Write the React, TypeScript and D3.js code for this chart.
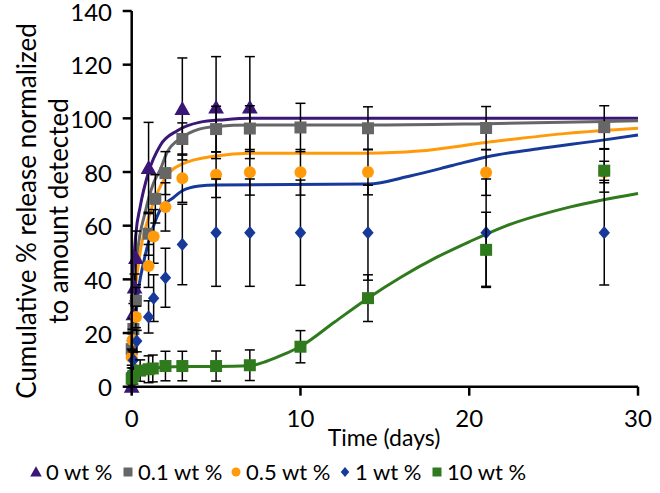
import React from "react";
import * as d3 from "d3";

// ---- Data ----
const seriesNames = ["0 wt %", "0.1 wt %", "0.5 wt %", "1 wt %", "10 wt %"];
const seriesColors = ["#3a1677", "#666666", "#ff9a0a", "#16399a", "#2f7a1c"];
const markerShapes = ["triangle", "square", "circle", "diamond", "square"];

// measured points
const t0 = [0, 0.1, 0.17, 0.25, 1, 3, 5, 7];
const v0 = [0, 27, 37, 48, 81.5, 103.5, 104, 104];
const e0 = [0, 4, 5, 10, 17, 19, 19, 19];

const t1 = [0, 0.1, 0.25, 1, 1.4, 2, 3, 5, 7, 10, 14, 21, 28];
const v1 = [14, 21.5, 32, 57, 70, 79.6, 92.3, 96, 96.2, 96.6, 96.3, 96.4, 96.7];
const e1 = [3, 4, 5, 8, 9, 8, 6, 8.5, 8.5, 9, 8, 8, 8];

const t2 = [0, 0.05, 0.25, 1, 1.3, 2, 3, 5, 7, 10, 14, 21, 28];
const v2 = [11, 17.4, 26, 45, 56, 67, 77.7, 79, 79.9, 79.9, 80, 79.8, 80];
const e2 = [3, 4, 4, 8, 10, 9, 9, 8.5, 8.5, 8.5, 8.5, 8.5, 4];

const t3 = [0, 0.1, 0.3, 1, 1.3, 2, 3, 5, 7, 10, 14, 21, 28];
const v3 = [5, 9.9, 17, 26, 33, 40.6, 53, 57.4, 57.4, 57.4, 57.4, 57.4, 57.4];
const e3 = [2, 3, 4, 6, 8.7, 11, 15, 20, 20, 19.6, 17.7, 20, 19.5];

const t4 = [0, 0.1, 0.5, 1, 1.25, 2, 3, 5, 7, 10, 14, 21, 28];
const v4 = [3, 4, 6, 6.5, 6.8, 7.7, 7.7, 7.7, 8, 14.9, 33, 51, 80.5];
const e4 = [2, 3, 4, 5, 5, 5.5, 5.5, 5.6, 5.7, 6, 8.7, 14, 8];

// fitted curves
const ct0 = [0, 0.05, 0.14, 0.25, 0.5, 1, 1.7, 2.7, 4, 5.5, 7, 30];
const cv0 = [0, 25, 47, 57, 67, 80, 90, 95.4, 98.5, 99.5, 100, 100];
const ct1 = [0, 0.1, 0.33, 0.8, 1.3, 1.7, 2.07, 3, 4, 5, 7, 14, 21, 28, 30];
const cv1 = [0, 28, 49, 65, 76, 81, 87, 93, 96, 97, 97.5, 97.5, 98, 98.8, 99.1];
const ct2 = [0, 0.15, 0.43, 1, 1.5, 2, 3, 5, 7, 14, 17, 21, 25.8, 30];
const cv2 = [0, 30, 47, 63, 72, 78, 83, 86, 87, 87, 87.8, 91, 94.4, 96.3];
const ct3 = [0, 0.3, 0.73, 1, 1.3, 1.7, 2.5, 3, 4, 5, 14, 16.5, 19, 21, 24, 27.7, 30];
const cv3 = [0, 30, 47, 54, 60, 66, 70.6, 73, 74.8, 75.2, 75.5, 78.5, 82.4, 85.6, 88.6, 91.7, 93.8];
const ct4 = [0, 0.5, 1, 2, 3, 5, 7, 8, 9, 10, 12, 14, 16, 18, 20, 22, 26, 30];
const cv4 = [3, 5.5, 6.5, 7.3, 7.5, 7.5, 7.8, 9.5, 12, 15, 24, 33, 41, 48, 54, 59.5, 67, 72];

const xTicks = [0, 10, 20, 30];
const yTicks = [0, 20, 40, 60, 80, 100, 120, 140];

const pointT = [t0, t1, t2, t3, t4];
const pointV = [v0, v1, v2, v3, v4];
const pointE = [e0, e1, e2, e3, e4];
const curveT = [ct0, ct1, ct2, ct3, ct4];
const curveV = [cv0, cv1, cv2, cv3, cv4];

const FONT = "Lato, 'Open Sans', sans-serif";

function markerPath(shape: string, s: number): string {
  const h = s / 2;
  switch (shape) {
    case "triangle":
      return `M0,${-h * 1.05}L${h * 1.05},${h * 0.8}L${-h * 1.05},${h * 0.8}Z`;
    case "square":
      return `M${-h},${-h}H${h}V${h}H${-h}Z`;
    case "diamond":
      return `M0,${-h * 1.1}L${h * 0.95},0L0,${h * 1.1}L${-h * 0.95},0Z`;
    default:
      return `M${h},0A${h},${h} 0 1,1 ${-h},0A${h},${h} 0 1,1 ${h},0Z`;
  }
}

export default function App() {
  const W = 660;
  const H = 493;
  const x = d3.scaleLinear().domain([0, 30]).range([131.7, 638]);
  const y = d3.scaleLinear().domain([0, 140]).range([386.7, 11]);

  const line = d3
    .line<[number, number]>()
    .x((d) => x(d[0]))
    .y((d) => y(d[1]))
    .curve(d3.curveMonotoneX);

  const legendX = [36, 128, 236, 345, 437];
  const legendY = 472;

  return (
    <svg
      width={W}
      height={H}
      style={{ position: "absolute", left: 0, top: 0, background: "#fff" }}
      fontFamily={FONT}
    >
      <rect width={W} height={H} fill="#fff" />
      {/* curves */}
      {curveT.map((ts, i) => (
        <path
          key={"c" + i}
          d={line(ts.map((t, j) => [t, curveV[i][j]]) as [number, number][]) || ""}
          fill="none"
          stroke={seriesColors[i]}
          strokeWidth={3}
        />
      ))}
      {/* error bars + markers */}
      {pointT.map((ts, i) => (
        <g key={"s" + i}>
          {ts.map((t, j) => {
            const v = pointV[i][j];
            const e = pointE[i][j];
            const cx = x(t);
            return (
              <g key={j} stroke="#000" strokeWidth={1.5}>
                <line x1={cx} x2={cx} y1={y(v - e)} y2={y(v + e)} />
                <line x1={cx - 5} x2={cx + 5} y1={y(v + e)} y2={y(v + e)} />
                <line x1={cx - 5} x2={cx + 5} y1={y(v - e)} y2={y(v - e)} />
              </g>
            );
          })}
          {ts.map((t, j) => (
            <path
              key={"m" + j}
              d={markerPath(markerShapes[i], markerShapes[i] === "triangle" ? 15 : 12)}
              transform={`translate(${x(t)},${y(pointV[i][j])})`}
              fill={seriesColors[i]}
            />
          ))}
        </g>
      ))}
      {/* axes */}
      <line x1={x(0)} x2={x(0)} y1={y(140)} y2={y(0)} stroke="#000" strokeWidth={2.5} />
      <line x1={x(0)} x2={x(30)} y1={y(0)} y2={y(0)} stroke="#000" strokeWidth={2.5} />
      {yTicks.map((v) => (
        <g key={"yt" + v}>
          <line x1={x(0) - 9} x2={x(0)} y1={y(v)} y2={y(v)} stroke="#000" strokeWidth={2.5} />
          <text x={112} y={y(v)} dy="0.4em" textAnchor="end" fontSize={24} fill="#000">
            {v}
          </text>
        </g>
      ))}
      {xTicks.map((t) => (
        <g key={"xt" + t}>
          <line x1={x(t)} x2={x(t)} y1={y(0)} y2={y(0) + 9} stroke="#000" strokeWidth={2.5} />
          <text x={x(t)} y={427} textAnchor="middle" fontSize={24} fill="#000">
            {t}
          </text>
        </g>
      ))}
      <text x={384} y={446} textAnchor="middle" fontSize={23} fill="#000">
        Time (days)
      </text>
      <g transform="translate(36,211) rotate(-90)">
        <text x={0} y={0} textAnchor="middle" fontSize={26} fill="#000">
          Cumulative % release normalized
        </text>
        <text x={0} y={32} textAnchor="middle" fontSize={26} fill="#000">
          to amount detected
        </text>
      </g>
      {/* legend */}
      {seriesNames.map((n, i) => (
        <g key={"lg" + i}>
          <path
            d={markerPath(markerShapes[i], markerShapes[i] === "triangle" ? 11 : 9)}
            transform={`translate(${legendX[i]},${legendY})`}
            fill={seriesColors[i]}
          />
          <text x={legendX[i] + 10} y={legendY} dy="0.38em" fontSize={22} fill="#000">
            {n}
          </text>
        </g>
      ))}
    </svg>
  );
}
